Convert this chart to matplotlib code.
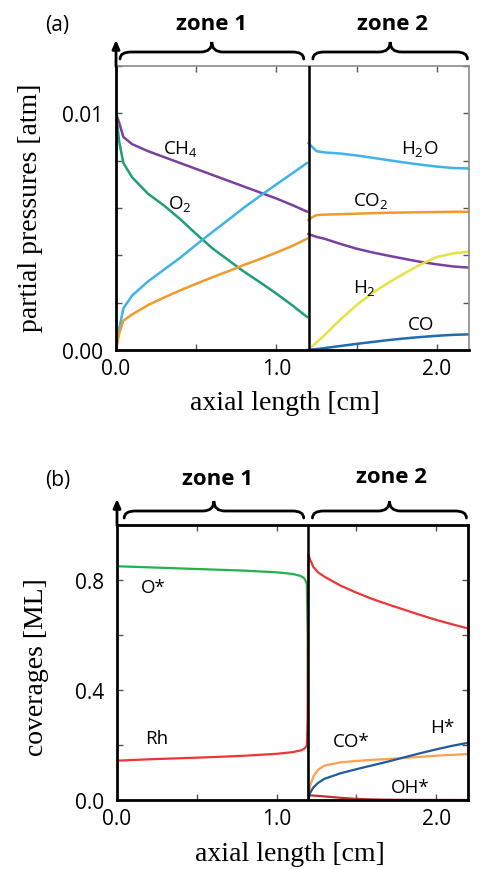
import matplotlib
matplotlib.use("Agg")
import matplotlib.pyplot as plt
from matplotlib.path import Path
from matplotlib.patches import PathPatch
import matplotlib.transforms as mtransforms

plt.rcParams["mathtext.fontset"] = "custom"
plt.rcParams["mathtext.rm"] = "Open Sans"
plt.rcParams["mathtext.it"] = "Open Sans:italic"
plt.rcParams["mathtext.bf"] = "Open Sans:bold"

# ---------------- data: panel (a) partial pressures ----------------
x_z1_a = [0.0, 0.02, 0.046, 0.1, 0.2, 0.3, 0.4, 0.5, 0.6, 0.7, 0.8, 0.9, 1.0, 1.1, 1.19]
ch4_z1 = [0.0100, 0.0096, 0.0090, 0.0087, 0.0084, 0.00815, 0.0079, 0.00765, 0.0074,
          0.00715, 0.0069, 0.00665, 0.0064, 0.00612, 0.00585]
o2_z1 = [0.0100, 0.0088, 0.0079, 0.0073, 0.0066, 0.0061, 0.00553, 0.0049, 0.0043,
         0.0038, 0.0033, 0.00285, 0.00238, 0.00188, 0.0014]
h2o_z1 = [0.0, 0.0009, 0.00176, 0.0023, 0.0029, 0.0034, 0.0039, 0.00445, 0.00498,
          0.0055, 0.00603, 0.00652, 0.0070, 0.00747, 0.0079]
co2_z1 = [0.0, 0.0007, 0.00124, 0.0015, 0.0019, 0.00222, 0.00252, 0.0028, 0.00307,
          0.00333, 0.0036, 0.00385, 0.00412, 0.0044, 0.0047]

x_z2_a = [1.2, 1.22, 1.25, 1.3, 1.4, 1.5, 1.6, 1.7, 1.8, 1.9, 2.0, 2.1, 2.2]
h2o_z2 = [0.00874, 0.0086, 0.0084, 0.00835, 0.0083, 0.00822, 0.00812, 0.00802,
          0.00792, 0.00783, 0.00775, 0.00769, 0.00767]
co2_z2 = [0.0055, 0.0056, 0.0057, 0.00572, 0.00574, 0.00576, 0.00578, 0.0058,
          0.00581, 0.00582, 0.00583, 0.00584, 0.00584]
ch4_z2 = [0.0049, 0.00485, 0.00478, 0.0047, 0.00448, 0.00428, 0.00412, 0.00398,
          0.00385, 0.00372, 0.00362, 0.00353, 0.00348]
h2_z2 = [0.0, 0.00013, 0.00032, 0.00063, 0.0013, 0.0019, 0.00242, 0.00285, 0.00325,
         0.00362, 0.00393, 0.00408, 0.00416]
co_z2 = [0.0, 0.00002, 0.00004, 0.00008, 0.00017, 0.00026, 0.00034, 0.00042,
         0.00049, 0.00055, 0.0006, 0.00064, 0.00066]

# ---------------- data: panel (b) coverages ----------------
x_z1_b = [0.0, 0.2, 0.4, 0.6, 0.8, 1.0, 1.1, 1.15, 1.17, 1.18, 1.19, 1.195, 1.2]
o_star = [0.850, 0.846, 0.842, 0.838, 0.834, 0.828, 0.822, 0.815, 0.808, 0.800,
          0.785, 0.60, 0.0]
rh_z1 = [0.143, 0.148, 0.152, 0.156, 0.161, 0.168, 0.174, 0.180, 0.185, 0.190,
         0.198, 0.30, 0.89]

x_z2_b = [1.2, 1.21, 1.23, 1.26, 1.3, 1.4, 1.5, 1.6, 1.7, 1.8, 1.9, 2.0, 2.1, 2.2]
rh_z2 = [0.89, 0.875, 0.848, 0.828, 0.812, 0.780, 0.754, 0.731, 0.711, 0.692,
         0.673, 0.655, 0.639, 0.624]
co_star = [0.0, 0.05, 0.085, 0.11, 0.125, 0.137, 0.142, 0.146, 0.149, 0.153,
           0.157, 0.161, 0.164, 0.167]
h_star = [0.0, 0.025, 0.045, 0.062, 0.077, 0.097, 0.112, 0.126, 0.140, 0.155,
          0.170, 0.184, 0.197, 0.208]
oh_star = [0.018, 0.017, 0.016, 0.015, 0.013, 0.008, 0.004, 0.002, 0.001, 0.0005,
           0.0003, 0.0002, 0.0001, 0.0]

# ---------------- ticks and labels ----------------
x_ticks = [0.0, 0.5, 1.0, 1.5, 2.0]
x_ticklabels = ["0.0", "", "1.0", "", "2.0"]
ya_ticks = [0.0, 0.002, 0.004, 0.006, 0.008, 0.010, 0.012]
ya_ticklabels = ["0.00", "", "", "", "", "0.01", ""]
yb_ticks = [0.0, 0.2, 0.4, 0.6, 0.8, 1.0]
yb_ticklabels = ["0.0", "", "0.4", "", "0.8", ""]
zone_names = ["zone 1", "zone 2"]
zone_boundary = 1.2

# colours
C_CH4 = "#7b3f9e"
C_O2 = "#1f9e78"
C_H2O = "#3fb2e8"
C_CO2 = "#f19a2c"
C_H2 = "#e6e244"
C_CO = "#1f6bb0"
C_OSTAR = "#22b14c"
C_RH = "#ee3535"
C_COSTAR = "#ff9f4f"
C_HSTAR = "#1f5a9c"
C_OHSTAR = "#c0302f"

W, H = 481, 870
fig = plt.figure(figsize=(W / 100, H / 100), dpi=100)

SANS = "Open Sans"
SERIF = "Liberation Serif"
TICK_FS = 15
LAB_FS = 13.5
AX_FS = 20
ZONE_FS = 16


def fx(px):
    return px / W


def fy(py):
    return 1 - py / H


def ax_rect(l, t, r, b):
    return [fx(l), fy(b), (r - l) / W, (b - t) / H]


def brace(ax, x0, x1, h_px, color="k"):
    tr = mtransforms.blended_transform_factory(ax.transData, ax.transAxes)
    yE = 1 + 7 / h_px
    yH = 1 + 14 / h_px
    yC = 1 + 24 / h_px
    r = 0.07
    cx = (x0 + x1) / 2
    verts = [(x0, yE), (x0, yH), (x0 + r, yH), (cx - r, yH), (cx, yH), (cx, yC),
             (cx, yH), (cx + r, yH), (x1 - r, yH), (x1, yH), (x1, yE)]
    codes = [Path.MOVETO, Path.CURVE3, Path.CURVE3, Path.LINETO, Path.CURVE3,
             Path.CURVE3, Path.CURVE3, Path.CURVE3, Path.LINETO, Path.CURVE3,
             Path.CURVE3]
    p = PathPatch(Path(verts, codes), transform=tr, fill=False, lw=2.0,
                  edgecolor=color, clip_on=False, capstyle="round")
    ax.add_patch(p)


def style_axes(ax, h_px, yticks, yticklabels, ylim, edge_color, edge_lw):
    ax.set_xlim(0, 2.2)
    ax.set_ylim(*ylim)
    ax.set_xticks(x_ticks)
    ax.set_xticklabels(x_ticklabels, fontname=SANS, fontsize=TICK_FS)
    ax.set_yticks(yticks)
    ax.set_yticklabels(yticklabels, fontname=SANS, fontsize=TICK_FS)
    ax.tick_params(direction="in", length=4, width=1, top=True, right=True,
                   color="#555555")
    ax.tick_params(axis="y", pad=9)
    ax.tick_params(axis="x", pad=6)
    for s in ["left", "bottom"]:
        ax.spines[s].set_linewidth(2.0)
        ax.spines[s].set_color("k")
    for s in ["top", "right"]:
        ax.spines[s].set_linewidth(edge_lw)
        ax.spines[s].set_color(edge_color)
    ax.axvline(zone_boundary, color="k", lw=1.8, zorder=5)
    ax.annotate("", xy=(0, 1 + 26 / h_px), xytext=(0, 1 - 0.002),
                xycoords="axes fraction",
                arrowprops=dict(arrowstyle="-|>,head_length=0.5,head_width=0.22",
                                lw=2.0, color="k", shrinkA=0, shrinkB=0))


# ---------------- panel (a) ----------------
ha = 284
ax1 = fig.add_axes(ax_rect(116, 67, 469, 351))
style_axes(ax1, ha, ya_ticks, ya_ticklabels, (0, 0.012), "#8a8a8a", 1.2)
lw = 1.8
ax1.plot(x_z1_a, ch4_z1, color=C_CH4, lw=lw)
ax1.plot(x_z1_a, o2_z1, color=C_O2, lw=lw)
ax1.plot(x_z1_a, h2o_z1, color=C_H2O, lw=lw)
ax1.plot(x_z1_a, co2_z1, color=C_CO2, lw=lw)
ax1.plot(x_z2_a, h2o_z2, color=C_H2O, lw=lw)
ax1.plot(x_z2_a, co2_z2, color=C_CO2, lw=lw)
ax1.plot(x_z2_a, ch4_z2, color=C_CH4, lw=lw)
ax1.plot(x_z2_a, h2_z2, color=C_H2, lw=lw)
ax1.plot(x_z2_a, co_z2, color=C_CO, lw=lw)

lab_kw = dict(fontname=SANS, fontsize=LAB_FS, ha="center", va="center")
ax1.text(0.40, 0.00852, "CH$_4$", **lab_kw)
ax1.text(0.40, 0.00623, "O$_2$", **lab_kw)
ax1.text(1.89, 0.00852, "H$_2$O", **lab_kw)
ax1.text(1.59, 0.00635, "CO$_2$", **lab_kw)
ax1.text(1.546, 0.00268, "H$_2$", **lab_kw)
ax1.text(1.90, 0.00111, "CO", **lab_kw)

brace(ax1, 0.025, 1.17, ha)
brace(ax1, 1.227, 2.19, ha)

fig.text(fx(57), fy(25), "(a)", fontname=SANS, fontsize=15, ha="center", va="center")
fig.text(fx(212), fy(25), zone_names[0], fontname=SANS, fontsize=ZONE_FS,
         fontweight="bold", ha="center", va="center")
fig.text(fx(393), fy(25), zone_names[1], fontname=SANS, fontsize=ZONE_FS,
         fontweight="bold", ha="center", va="center")
fig.text(fx(285), fy(404), "axial length [cm]", fontname=SERIF, fontsize=AX_FS,
         ha="center", va="center")
fig.text(fx(31), fy(208), "partial pressures [atm]", fontname=SERIF, fontsize=AX_FS,
         ha="center", va="center", rotation=90)

# ---------------- panel (b) ----------------
hb = 275
ax2 = fig.add_axes(ax_rect(117, 526, 468, 801))
style_axes(ax2, hb, yb_ticks, yb_ticklabels, (0, 1.0), "k", 2.0)
ax2.plot(x_z1_b, o_star, color=C_OSTAR, lw=1.6)
ax2.plot(x_z1_b, rh_z1, color=C_RH, lw=1.6)
ax2.plot(x_z2_b, rh_z2, color=C_RH, lw=1.6)
ax2.plot(x_z2_b, oh_star, color=C_OHSTAR, lw=1.6)
ax2.plot(x_z2_b, co_star, color=C_COSTAR, lw=1.6)
ax2.plot(x_z2_b, h_star, color=C_HSTAR, lw=1.6)

ax2.text(0.23, 0.773, "O*", **lab_kw)
ax2.text(0.25, 0.224, "Rh", **lab_kw)
ax2.text(1.466, 0.216, "CO*", **lab_kw)
ax2.text(2.04, 0.264, "H*", **lab_kw)
ax2.text(1.84, 0.046, "OH*", **lab_kw)

brace(ax2, 0.045, 1.17, hb)
brace(ax2, 1.225, 2.19, hb)

fig.text(fx(58), fy(481), "(b)", fontname=SANS, fontsize=15, ha="center", va="center")
fig.text(fx(217), fy(480), zone_names[0], fontname=SANS, fontsize=ZONE_FS,
         fontweight="bold", ha="center", va="center")
fig.text(fx(392), fy(478), zone_names[1], fontname=SANS, fontsize=ZONE_FS,
         fontweight="bold", ha="center", va="center")
fig.text(fx(290), fy(855), "axial length [cm]", fontname=SERIF, fontsize=AX_FS,
         ha="center", va="center")
fig.text(fx(37), fy(667), "coverages [ML]", fontname=SERIF, fontsize=AX_FS,
         ha="center", va="center", rotation=90)

fig.savefig("out.png", dpi=100)
